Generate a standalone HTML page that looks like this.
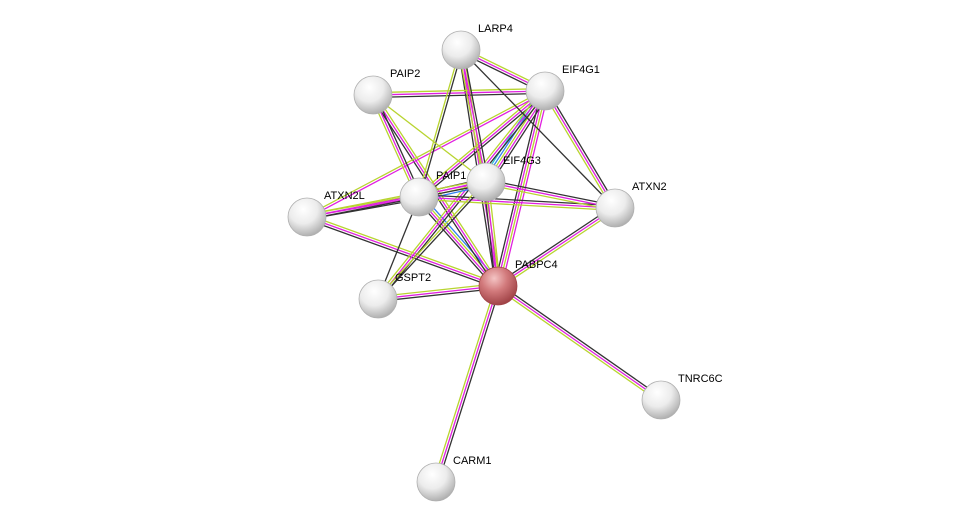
<!DOCTYPE html>
<html><head><meta charset="utf-8"><style>
html,body{margin:0;padding:0;background:#fff;width:976px;height:527px;overflow:hidden}
svg{display:block}
text{font-family:"Liberation Sans",sans-serif;font-size:11px;fill:#000}
</style></head><body>
<svg id="s" width="976" height="527" viewBox="0 0 976 527">
<defs>
<radialGradient id="w" cx="0.4" cy="0.3" r="0.75">
<stop offset="0" stop-color="#ffffff"/><stop offset="0.5" stop-color="#ececec"/><stop offset="1" stop-color="#a8a8a8"/>
</radialGradient>
<radialGradient id="r" cx="0.4" cy="0.3" r="0.75">
<stop offset="0" stop-color="#f4c4c4"/><stop offset="0.45" stop-color="#d27a7c"/><stop offset="1" stop-color="#9a3c40"/>
</radialGradient>
</defs>
<g id="edges"></g>
<g id="nodes"></g>
</svg>
<script>
var N={LARP4:[461,50],EIF4G1:[545,91],PAIP2:[373,95],EIF4G3:[486,182],PAIP1:[419,197],ATXN2L:[307,217],ATXN2:[615,208],PABPC4:[498,286],GSPT2:[378,299],TNRC6C:[661,400],CARM1:[436,482]};
var K="#333",M="#e020e0",Y="#b8d430",B="#3080f0",C="#30c8d0";
var E=[
["PABPC4","LARP4",[K,M,Y]],["PABPC4","EIF4G1",[K,M,Y,M]],["PABPC4","EIF4G3",[K,M,Y]],["PABPC4","PAIP1",[K,M,Y,B]],
["PABPC4","PAIP2",[K,M,Y]],["PABPC4","ATXN2L",[K,M,Y]],["PABPC4","ATXN2",[K,M,Y]],["PABPC4","GSPT2",[K,M,Y]],
["PABPC4","TNRC6C",[K,M,Y]],["PABPC4","CARM1",[K,M,Y]],
["EIF4G1","LARP4",[K,M,Y]],["EIF4G1","PAIP2",[K,M,Y]],["EIF4G1","PAIP1",[K,M,Y]],["EIF4G1","EIF4G3",[K,M,Y,B,C]],
["EIF4G1","ATXN2",[K,M,Y]],["EIF4G1","GSPT2",[K,M,Y]],["EIF4G1","ATXN2L",[M,Y]],
["LARP4","EIF4G3",[K,M,Y]],["LARP4","PAIP1",[K,Y]],["LARP4","ATXN2",[K]],
["PAIP2","PAIP1",[K,M,Y]],["PAIP2","EIF4G3",[Y]],
["PAIP1","ATXN2L",[K,M,Y]],["PAIP1","EIF4G3",[K,M,Y,B]],["PAIP1","ATXN2",[K,M,Y]],["PAIP1","GSPT2",[K]],
["EIF4G3","ATXN2L",[K,M,Y]],["EIF4G3","ATXN2",[K,M,Y]],["EIF4G3","GSPT2",[K,Y]]
];
var ns="http://www.w3.org/2000/svg",eg=document.getElementById("edges"),ng=document.getElementById("nodes");
E.forEach(function(e){var a=N[e[0]],b=N[e[1]],dx=b[0]-a[0],dy=b[1]-a[1],L=Math.hypot(dx,dy),px=-dy/L,py=dx/L,n=e[2].length;
e[2].forEach(function(c,i){var o=(i-(n-1)/2)*2.4;var l=document.createElementNS(ns,"line");
l.setAttribute("x1",a[0]+px*o);l.setAttribute("y1",a[1]+py*o);l.setAttribute("x2",b[0]+px*o);l.setAttribute("y2",b[1]+py*o);
l.setAttribute("stroke",c);l.setAttribute("stroke-width","1.3");eg.appendChild(l);});});
for(var k in N){var p=N[k];var c=document.createElementNS(ns,"circle");c.setAttribute("cx",p[0]);c.setAttribute("cy",p[1]);c.setAttribute("r",19);
c.setAttribute("fill",k=="PABPC4"?"url(#r)":"url(#w)");c.setAttribute("stroke",k=="PABPC4"?"#a04448":"#b0b0b0");c.setAttribute("stroke-width","0.8");ng.appendChild(c);
var t=document.createElementNS(ns,"text");t.setAttribute("x",p[0]+17);t.setAttribute("y",p[1]-18);t.textContent=k;ng.appendChild(t);}
</script>
</body></html>
